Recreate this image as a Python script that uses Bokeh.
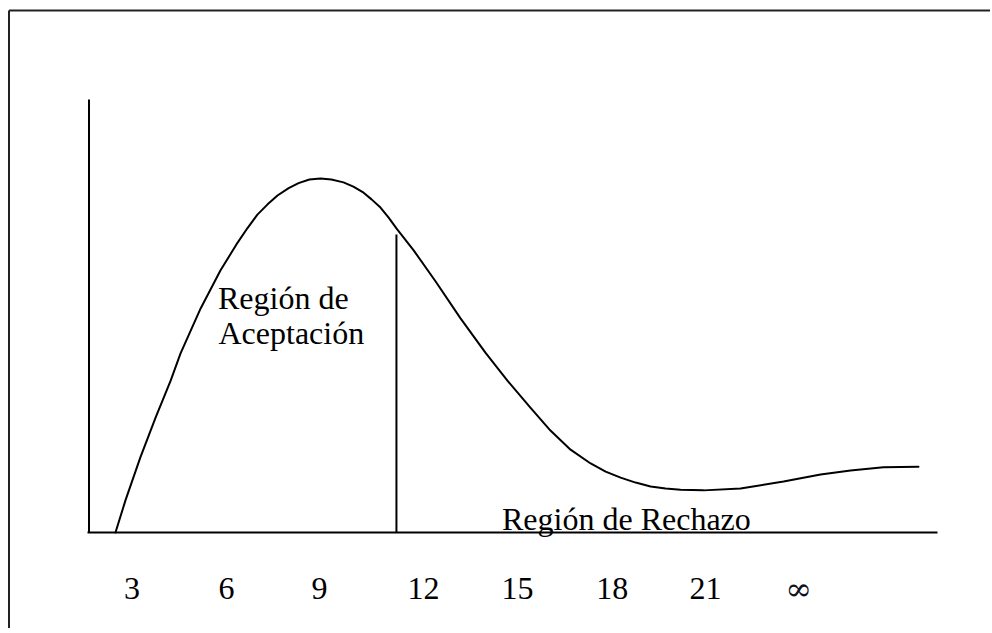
from bokeh.plotting import figure
from bokeh.models import Range1d, ColumnDataSource
from bokeh.core.properties import value
from bokeh.embed import file_html
from bokeh.resources import INLINE

# ---- data ----
curve_x = [2.48, 2.79, 3.26, 3.74, 4.21, 4.52, 5.15, 5.77, 6.31, 6.62, 6.93, 7.25,
           7.56, 7.91, 8.22, 8.56, 8.91, 9.25, 9.63, 9.94, 10.26, 10.51, 10.79,
           11.04, 11.29, 11.83, 12.52, 13.30, 14.08, 14.77, 15.49, 16.12, 16.75,
           17.38, 17.85, 18.32, 18.79, 19.26, 19.73, 20.20, 20.92, 22.08, 23.43,
           24.59, 25.53, 26.56, 27.66]
curve_y = [0.0, 0.090, 0.212, 0.325, 0.429, 0.506, 0.633, 0.740, 0.819, 0.860, 0.898,
           0.927, 0.952, 0.973, 0.987, 0.997, 1.0, 0.997, 0.989, 0.977, 0.960, 0.941,
           0.918, 0.890, 0.859, 0.797, 0.709, 0.605, 0.508, 0.429, 0.353, 0.288,
           0.234, 0.195, 0.172, 0.155, 0.141, 0.130, 0.124, 0.121, 0.119, 0.124,
           0.144, 0.164, 0.175, 0.184, 0.186]

critical_x = 11.29
critical_top = 0.842

tick_x = [3.0, 5.96, 8.88, 12.14, 15.09, 18.06, 20.98, 23.90]
tick_labels = ["3", "6", "9", "12", "15", "18", "21", "\u221e"]

accept_lines = ["Regi\u00f3n de", "Aceptaci\u00f3n"]
reject_label = "Regi\u00f3n de Rechazo"

# ---- layout (page pixels; the page has no margin) ----
W, H = 990, 628
PX_PER_X, X0_PX = 31.89, 35.9     # px of x = 0
PX_PER_Y, Y0_PX = 354.0, 532.0    # px (from top) of y = 0
TEXT_SHIFT = 10                   # renderer places alphabetic baseline lower

def px2x(px):
    return (px - X0_PX) / PX_PER_X

def py2y(py):
    return (Y0_PX - py) / PX_PER_Y

p = figure(width=W, height=H, output_backend="svg", toolbar_location=None,
           x_range=Range1d(px2x(0), px2x(W)), y_range=Range1d(py2y(H), py2y(0)),
           x_axis_location=None, y_axis_location=None, min_border=0,
           outline_line_color=None, background_fill_color="white",
           border_fill_color="white")
p.grid.visible = False

FONT = value("Liberation Serif")
FS = value("32px")

# outer frame (top and left edges; the rest lies outside the view)
p.line([px2x(8.5), px2x(8.5)], [py2y(H), py2y(10)], line_color="#222222", line_width=2)
p.line([px2x(8.5), px2x(W)], [py2y(10), py2y(10)], line_color="#222222", line_width=2)

# axes
p.line([px2x(88.5), px2x(88.5)], [0, py2y(99)], line_color="black", line_width=2)
p.line([px2x(87), px2x(937)], [0, 0], line_color="black", line_width=2)

# curve
p.line(curve_x, curve_y, line_color="black", line_width=2, line_cap="round",
       line_join="round")

# critical value line
p.line([critical_x, critical_x], [0, critical_top], line_color="black", line_width=2)

# tick labels
n = len(tick_x) - 1
num_src = ColumnDataSource(dict(x=tick_x[:n], y=[py2y(598 - TEXT_SHIFT)] * n,
                                t=tick_labels[:n]))
p.text(x="x", y="y", text="t", source=num_src, text_font=FONT, text_font_size=FS,
       text_align="center", text_baseline="alphabetic", text_color="black")
p.text(x=tick_x[n:], y=[py2y(598 - TEXT_SHIFT)], text=tick_labels[n:],
       text_font=value("DejaVu Serif"), text_font_size=FS,
       text_align="center", text_baseline="alphabetic", text_color="#111122")

# region labels
p.text(x=[px2x(217.5), px2x(218)],
       y=[py2y(307 - TEXT_SHIFT), py2y(342 - TEXT_SHIFT)], text=accept_lines,
       text_font=FONT, text_font_size=FS, text_align="left",
       text_baseline="alphabetic", text_color="black")
p.text(x=[px2x(501.5)], y=[py2y(528 - TEXT_SHIFT)], text=[reject_label],
       text_font=FONT, text_font_size=FS, text_align="left",
       text_baseline="alphabetic", text_color="black")

open("out.html", "w").write(file_html(p, INLINE))
